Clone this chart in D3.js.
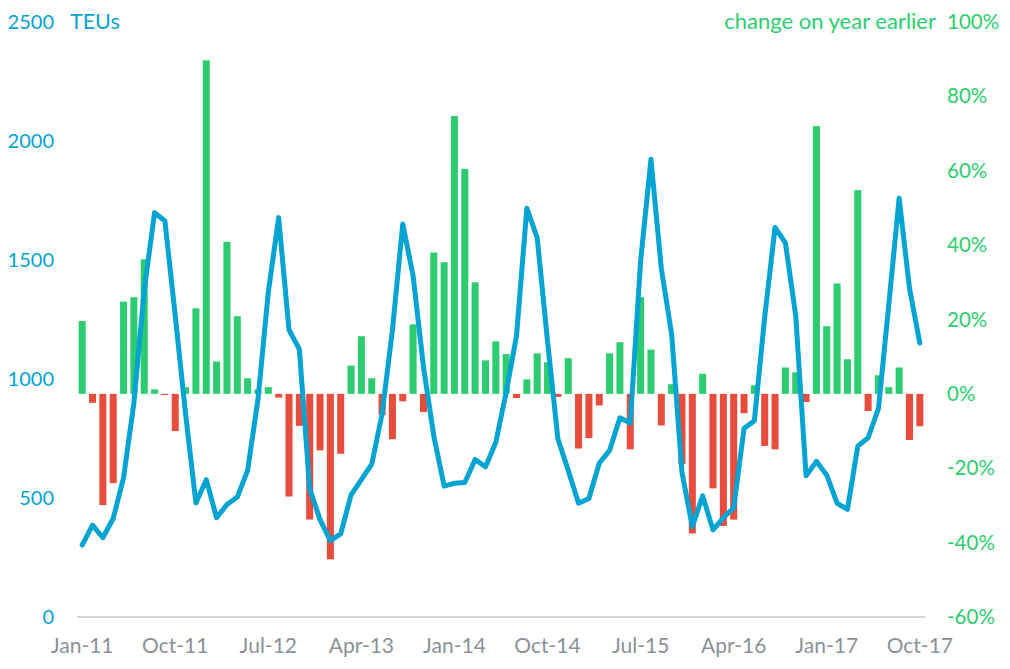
<!DOCTYPE html>
<html>
<head>
<meta charset="utf-8">
<style>
    body { margin: 0; background: #fff; }
    text { font-family: Lato, "Open Sans", sans-serif; }
</style>
<script src="https://d3js.org/d3.v7.min.js"></script>
</head>
<body>
<svg width="1010" height="669"></svg>
<script>

// monthly categories Jan-11 .. Oct-17
var monthNames = ["Jan","Feb","Mar","Apr","May","Jun","Jul","Aug","Sep","Oct","Nov","Dec"];
var years = ["11","12","13","14","15","16","17"];
var months = [];
years.forEach(function(yr) {
    monthNames.forEach(function(m) {
        if (months.length < 82) months.push(m + "-" + yr);
    });
});

var tickLabels = ["Jan-11","Oct-11","Jul-12","Apr-13","Jan-14","Oct-14","Jul-15","Apr-16","Jan-17","Oct-17"];

// TEUs (left axis)
var teu = [302,386,333,414,585,899,1374,1699,1664,1266,853,479,577,417,473,504,616,
    914,1365,1678,1207,1125,539,409,321,349,513,577,642,853,1205,1651,1434,
    1052,761,550,562,565,662,631,734,944,1182,1717,1594,1159,749,616,478,498,
    646,700,837,815,1495,1923,1465,1189,608,379,509,366,417,458,792,825,
    1260,1637,1572,1266,593,654,596,478,452,718,753,876,1312,1760,1381,1151];

// change on year earlier, % (right axis)
var change = [19.6,-2.4,-29.9,-24,24.8,26,36.2,1.2,-0.3,-10,1.8,23,89.7,8.7,40.9,20.9,4.2,
    1.2,1.8,-1,-27.6,-8.6,-33.8,-15.2,-44.5,-16.1,7.6,15.5,4.2,-5.7,-12.2,-2,18.7,
    -4.9,38,35.4,74.7,60.5,30,9,14.1,10.7,-1.1,3.9,10.9,8.5,-0.8,9.6,-14.7,-11.9,
    -3.1,10.9,13.9,-14.9,26,11.9,-8.5,2.6,-18.9,-37.5,5.4,-25.4,-35.5,-33.8,-5.2,2.3,
    -14,-14.9,7.1,5.8,-2.2,72,18.2,29.7,9.3,54.8,-4.6,5,1.8,7.1,-12.4,-8.7];

var leftTicks = [0,500,1000,1500,2000,2500];
var rightTicks = [-60,-40,-20,0,20,40,60,80,100];

var blue = "#03a3d2", green = "#2ecc71", red = "#e74c3c", grey = "#8b9198";

var svg = d3.select("svg");

var x = d3.scaleBand().domain(months).range([77, 925]).paddingInner(0.32).paddingOuter(0.16);
var yL = d3.scaleLinear().domain([0, 2500]).range([617, 22]);
var yR = d3.scaleLinear().domain([-60, 100]).range([617, 22]);

// bars
svg.append("g").selectAll("rect")
    .data(change)
    .enter().append("rect")
    .attr("x", function(d, i) { return x(months[i]); })
    .attr("width", x.bandwidth())
    .attr("y", function(d) { return d >= 0 ? yR(d) : yR(0); })
    .attr("height", function(d) { return Math.abs(yR(d) - yR(0)); })
    .attr("fill", function(d) { return d >= 0 ? green : red; });

// baseline
svg.append("line")
    .attr("x1", 77).attr("x2", 925)
    .attr("y1", yL(0)).attr("y2", yL(0))
    .attr("stroke", "#d6d6d6").attr("stroke-width", 2);

// line
var line = d3.line()
    .x(function(d, i) { return x(months[i]) + x.bandwidth() / 2; })
    .y(function(d) { return yL(d); });

svg.append("path")
    .datum(teu)
    .attr("fill", "none")
    .attr("stroke", blue)
    .attr("stroke-width", 5)
    .attr("stroke-linejoin", "round")
    .attr("stroke-linecap", "round")
    .attr("d", line);

// left axis
var gl = svg.append("g")
    .attr("transform", "translate(54,0)")
    .call(d3.axisLeft(yL).tickValues(leftTicks).tickSize(0).tickPadding(0).tickFormat(d3.format("d")));
gl.select(".domain").remove();
gl.selectAll("text").attr("fill", blue).style("font-size", "20px").style("font-family", "Lato");

// right axis
var gr = svg.append("g")
    .attr("transform", "translate(947,0)")
    .call(d3.axisRight(yR).tickValues(rightTicks).tickSize(0).tickPadding(0)
        .tickFormat(function(d) { return d + "%"; }));
gr.select(".domain").remove();
gr.selectAll("text").attr("fill", green).style("font-size", "20.5px").style("font-family", "Lato");

// bottom axis
var gb = svg.append("g")
    .attr("transform", "translate(0,638)")
    .call(d3.axisBottom(x).tickValues(tickLabels).tickSize(0).tickPadding(0));
gb.select(".domain").remove();
gb.selectAll("text").attr("fill", grey).style("font-size", "21px").style("font-family", "Lato");

// axis titles
svg.append("text")
    .attr("x", 70).attr("y", yL(2500)).attr("dy", "0.34em")
    .attr("fill", blue).style("font-size", "21.5px")
    .text("TEUs");

svg.append("text")
    .attr("x", 936).attr("y", yR(100)).attr("dy", "0.34em")
    .attr("text-anchor", "end")
    .attr("fill", green).style("font-size", "22px")
    .text("change on year earlier");

</script>
</body>
</html>
